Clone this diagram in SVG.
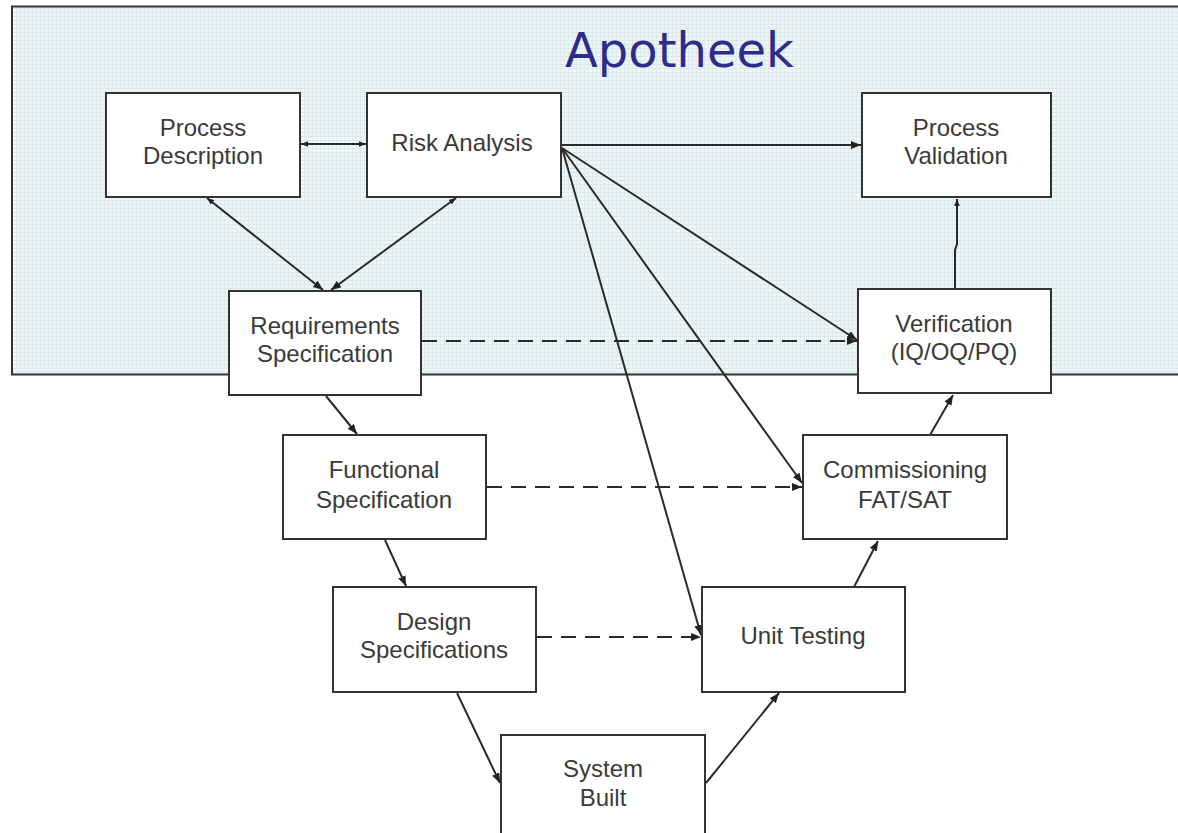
<svg xmlns="http://www.w3.org/2000/svg" width="1178" height="833" viewBox="0 0 1178 833">
<defs>
<style>
.box{fill:#fff;stroke:#333;stroke-width:2}
.lbl{font-family:"Liberation Sans",Arial,sans-serif;font-size:24px;fill:#3a3a3a;text-anchor:middle}
.ln{stroke:#2a2a2a;stroke-width:2;fill:none}
.dash{stroke:#2a2a2a;stroke-width:2;fill:none;stroke-dasharray:15 9}
</style>
<pattern id="grid" width="4" height="4" patternUnits="userSpaceOnUse">
<rect width="4" height="4" fill="#eef7f7"/>
<rect x="0" y="0" width="4" height="1" fill="#dbe8e8"/>
<rect x="0" y="0" width="1" height="4" fill="#e0ecec"/>
</pattern>
<marker id="ah" viewBox="0 0 10 8" refX="10" refY="4" markerWidth="10" markerHeight="8" markerUnits="userSpaceOnUse" orient="auto-start-reverse">
<path d="M0,0 L10,4 L0,8 Z" fill="#222"/>
</marker>
<marker id="ahs" viewBox="0 0 10 8" refX="10" refY="4" markerWidth="7" markerHeight="6" markerUnits="userSpaceOnUse" orient="auto-start-reverse">
<path d="M0,0 L10,4 L0,8 Z" fill="#222"/>
</marker>
</defs>
<rect width="1178" height="833" fill="#fff"/>
<g id="panel">
<rect x="12" y="6.5" width="1180" height="368" fill="url(#grid)" stroke="#333" stroke-width="2"/>
<text x="565" y="67" font-family="DejaVu Sans,Verdana,sans-serif" font-size="48" fill="#2e2b8a">Apotheek</text>
</g>
<g id="connectors">
<line class="ln" x1="301" y1="144" x2="366" y2="144" marker-start="url(#ahs)" marker-end="url(#ahs)"/>
<line class="ln" x1="561" y1="145" x2="861" y2="145" marker-end="url(#ah)"/>
<line class="ln" x1="207" y1="198" x2="323" y2="290" marker-start="url(#ahs)" marker-end="url(#ah)"/>
<line class="ln" x1="456" y1="198" x2="331" y2="290" marker-start="url(#ahs)" marker-end="url(#ah)"/>
<line class="ln" x1="562" y1="148" x2="857" y2="340" marker-end="url(#ah)"/>
<line class="ln" x1="562" y1="148" x2="802" y2="483" marker-end="url(#ah)"/>
<line class="ln" x1="562" y1="148" x2="701" y2="635" marker-end="url(#ah)"/>
<path class="ln" d="M955,289 L955,250 L957,244 L957,199" marker-end="url(#ahs)"/>
<line class="dash" x1="422" y1="341" x2="857" y2="341" marker-end="url(#ah)"/>
<line class="dash" x1="487" y1="487" x2="802" y2="487" marker-end="url(#ah)"/>
<line class="dash" x1="537" y1="637" x2="701" y2="637" marker-end="url(#ah)"/>
<line class="ln" x1="326" y1="396" x2="357" y2="434" marker-end="url(#ah)"/>
<line class="ln" x1="385" y1="540" x2="406" y2="586" marker-end="url(#ah)"/>
<line class="ln" x1="457" y1="693" x2="500" y2="783" marker-end="url(#ah)"/>
<line class="ln" x1="706" y1="783" x2="779" y2="693" marker-end="url(#ah)"/>
<line class="ln" x1="854" y1="587" x2="878" y2="541" marker-end="url(#ah)"/>
<line class="ln" x1="930" y1="435" x2="953" y2="395" marker-end="url(#ah)"/>
</g>
<g id="process-description"><rect class="box" x="106" y="93" width="194" height="104"/><text class="lbl" x="203" y="136">Process</text><text class="lbl" x="203" y="164">Description</text></g>
<g id="risk-analysis"><rect class="box" x="367" y="93" width="194" height="104"/><text class="lbl" x="462" y="151">Risk Analysis</text></g>
<g id="process-validation"><rect class="box" x="862" y="93" width="189" height="104"/><text class="lbl" x="956" y="136">Process</text><text class="lbl" x="956" y="164">Validation</text></g>
<g id="requirements-specification"><rect class="box" x="229" y="291" width="192" height="104"/><text class="lbl" x="325" y="334">Requirements</text><text class="lbl" x="325" y="362">Specification</text></g>
<g id="verification"><rect class="box" x="858" y="289" width="193" height="104"/><text class="lbl" x="954" y="332">Verification</text><text class="lbl" x="954" y="360">(IQ/OQ/PQ)</text></g>
<g id="functional-specification"><rect class="box" x="283" y="435" width="203" height="104"/><text class="lbl" x="384" y="478">Functional</text><text class="lbl" x="384" y="508">Specification</text></g>
<g id="commissioning"><rect class="box" x="803" y="435" width="204" height="104"/><text class="lbl" x="905" y="478">Commissioning</text><text class="lbl" x="905" y="508">FAT/SAT</text></g>
<g id="design-specifications"><rect class="box" x="333" y="587" width="203" height="105"/><text class="lbl" x="434" y="630">Design</text><text class="lbl" x="434" y="658">Specifications</text></g>
<g id="unit-testing"><rect class="box" x="702" y="587" width="203" height="105"/><text class="lbl" x="803" y="644">Unit Testing</text></g>
<g id="system-built"><rect class="box" x="501" y="735" width="204" height="110"/><text class="lbl" x="603" y="777">System</text><text class="lbl" x="603" y="806">Built</text></g>
</svg>
